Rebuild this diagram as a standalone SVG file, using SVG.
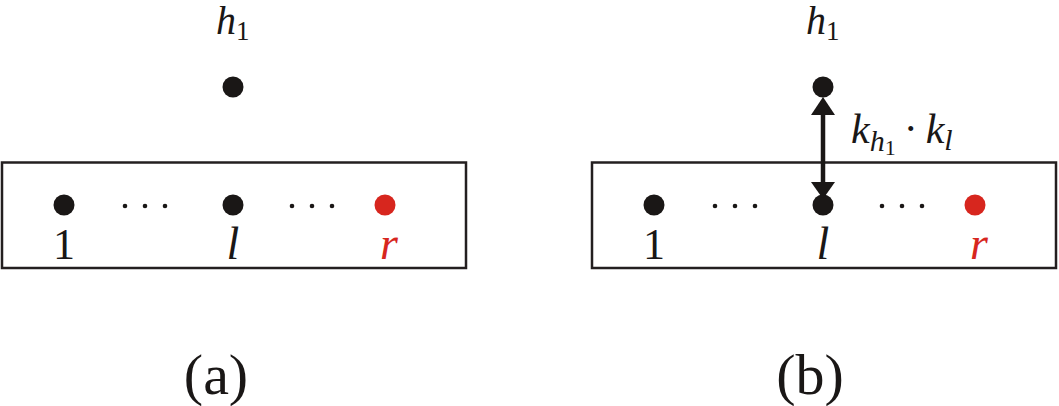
<svg xmlns="http://www.w3.org/2000/svg" width="1059" height="406" viewBox="0 0 1059 406">
<defs>
<circle id="dotL" r="10.5" fill="#1a1716"/>
<circle id="dotS" r="2.3" fill="#1a1716"/>
</defs>
<g font-family="Liberation Serif" fill="#1a1716">
<g id="panel-a">
<rect x="2" y="162.5" width="464" height="105.5" fill="none" stroke="#231f20" stroke-width="2.5"/>
<g id="a-h1"><use href="#dotL" x="233" y="87"/><text x="216" y="34" font-size="40" font-style="italic">h<tspan font-size="27" dy="6" font-style="normal">1</tspan></text></g>
<g id="a-1"><use href="#dotL" x="64" y="205"/><text x="64" y="259" font-size="44" text-anchor="middle">1</text></g>
<g id="a-l"><use href="#dotL" x="233" y="205"/><text x="233" y="259" font-size="46" text-anchor="middle" font-style="italic">l</text></g>
<g id="a-r"><circle cx="385" cy="205" r="10.5" fill="#d7261e"/><text x="389" y="259" font-size="46" text-anchor="middle" font-style="italic" fill="#d7261e">r</text></g>
<g id="a-dots1"><use href="#dotS" x="125" y="206"/><use href="#dotS" x="145" y="206"/><use href="#dotS" x="165" y="206"/></g>
<g id="a-dots2"><use href="#dotS" x="292" y="206"/><use href="#dotS" x="312" y="206"/><use href="#dotS" x="332" y="206"/></g>
<text x="216" y="394" font-size="58" text-anchor="middle">(a)</text>
</g>
<g id="panel-b">
<rect x="592" y="162.5" width="464" height="105.5" fill="none" stroke="#231f20" stroke-width="2.5"/>
<g id="b-h1"><use href="#dotL" x="823" y="87"/><text x="806" y="34" font-size="40" font-style="italic">h<tspan font-size="27" dy="6" font-style="normal">1</tspan></text></g>
<g id="b-1"><use href="#dotL" x="654" y="205"/><text x="654" y="259" font-size="44" text-anchor="middle">1</text></g>
<g id="b-l"><use href="#dotL" x="823" y="205"/><text x="823" y="259" font-size="46" text-anchor="middle" font-style="italic">l</text></g>
<g id="b-r"><circle cx="975" cy="205" r="10.5" fill="#d7261e"/><text x="979" y="259" font-size="46" text-anchor="middle" font-style="italic" fill="#d7261e">r</text></g>
<g id="b-dots1"><use href="#dotS" x="715" y="206"/><use href="#dotS" x="735" y="206"/><use href="#dotS" x="755" y="206"/></g>
<g id="b-dots2"><use href="#dotS" x="882" y="206"/><use href="#dotS" x="902" y="206"/><use href="#dotS" x="922" y="206"/></g>
<text x="810" y="394" font-size="58" text-anchor="middle">(b)</text>
</g>
<g id="connectors">
<line x1="823" y1="112" x2="823" y2="186" stroke="#1a1716" stroke-width="4.5"/>
<path d="M823,97 L835,115 L811,115 Z"/>
<path d="M823,199 L835,182 L811,182 Z"/>
<text x="851" y="143" font-size="42" font-style="italic">k<tspan font-size="30" dy="8">h</tspan><tspan font-size="22" dy="4" font-style="normal">1</tspan><tspan font-size="42" dy="-12" dx="8" font-style="normal">·</tspan><tspan font-size="42" dx="8">k</tspan><tspan font-size="30" dy="7">l</tspan></text>
</g>
</g>
</svg>
